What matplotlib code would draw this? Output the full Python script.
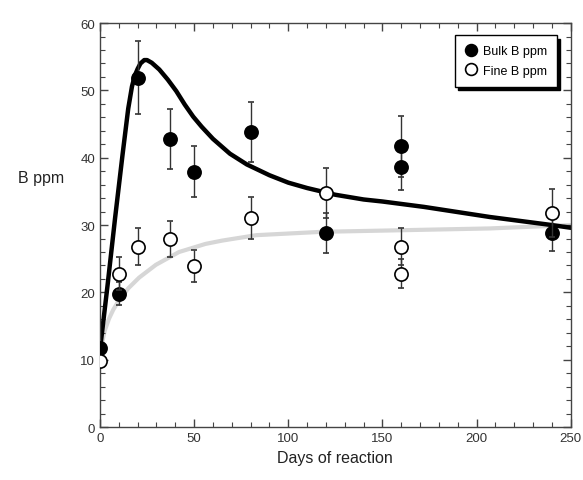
import numpy as np
import matplotlib.pyplot as plt
from matplotlib.ticker import MultipleLocator
from matplotlib.lines import Line2D

plt.rcParams['font.family'] = ['Liberation Sans', 'DejaVu Sans']

# --------- data ---------

# bulk (filled circles)
bulk_days = [0, 10, 20, 37, 50, 80, 120, 160, 160, 240]
bulk_ppm = [11.8, 19.8, 51.9, 42.8, 37.9, 43.8, 28.8, 41.7, 38.6, 28.8]
bulk_err = [0.0, 1.7, 5.4, 4.4, 3.8, 4.5, 3.0, 4.5, 3.4, 2.7]

# fine (open circles)
fine_days = [0, 10, 20, 37, 50, 80, 120, 160, 160, 240]
fine_ppm = [9.8, 22.8, 26.8, 27.9, 23.9, 31.0, 34.8, 26.8, 22.8, 31.8]
fine_err = [0.0, 2.5, 2.8, 2.7, 2.4, 3.1, 3.7, 2.8, 2.1, 3.5]

# model curves
bulk_fit_x = [0, 4, 8, 12, 15, 17, 18.5, 20, 21.5, 23.5, 25, 27.5, 31.5, 36,
              40.5, 45, 49.5, 54, 60, 69, 78, 90, 100, 110, 125, 140, 150,
              172, 207, 240, 250]
bulk_fit_y = [11.5, 21, 31, 40.5, 47.3, 50.6, 52.2, 53.2, 54.0, 54.5, 54.5,
              54.1, 53.1, 51.6, 49.9, 47.9, 46.1, 44.6, 42.8, 40.6, 39.0, 37.4,
              36.3, 35.5, 34.5, 33.8, 33.5, 32.7, 31.2, 30.0, 29.6]

fine_fit_x = [0, 1.2, 2.5, 4.8, 7, 10, 15, 20.8, 29.7, 42, 56, 65, 83, 118,
              154, 207, 250]
fine_fit_y = [11.0, 12.6, 14.3, 16.1, 17.4, 18.8, 20.6, 22.2, 24.1, 26.0, 27.2,
              27.7, 28.5, 29.0, 29.2, 29.5, 30.0]

# --------- figure ---------

fig = plt.figure(figsize=(5.83, 4.81), dpi=100)
ax = fig.add_axes([0.1715, 0.110, 0.8075, 0.840])

ax.plot(fine_fit_x, fine_fit_y, color='#d6d6d6', lw=3.0, zorder=1,
        solid_joinstyle='round')
ax.plot(bulk_fit_x, bulk_fit_y, color='black', lw=3.2, zorder=2,
        solid_joinstyle='round')

ax.errorbar(bulk_days, bulk_ppm, yerr=bulk_err, fmt='o', ms=9.5, mfc='black',
            mec='black', mew=1.2, ecolor='#333333', elinewidth=1.0, capsize=2.5,
            zorder=3)
ax.errorbar(fine_days, fine_ppm, yerr=fine_err, fmt='o', ms=9.5, mfc='white',
            mec='black', mew=1.2, ecolor='#333333', elinewidth=1.0, capsize=2.5,
            zorder=4)

ax.set_xlim(0, 250)
ax.set_ylim(0, 60)
ax.xaxis.set_major_locator(MultipleLocator(50))
ax.xaxis.set_minor_locator(MultipleLocator(10))
ax.yaxis.set_major_locator(MultipleLocator(10))
ax.yaxis.set_minor_locator(MultipleLocator(2))
ax.tick_params(which='both', direction='in', top=True, right=True,
               labelsize=9.5, labelcolor='#333333', color='#444444')
ax.tick_params(which='major', length=6, width=1)
ax.tick_params(which='minor', length=3.5, width=0.8)
for s in ax.spines.values():
    s.set_color('#444444')
    s.set_linewidth(1.0)

ax.set_xlabel('Days of reaction', fontsize=11.5, color='#222222', labelpad=4)
ax.set_ylabel('B ppm', fontsize=11.5, color='#222222', rotation=0,
              labelpad=0)
ax.yaxis.set_label_coords(-0.125, 0.60)

handles = [
    Line2D([], [], ls='none', marker='o', ms=8.5, mfc='black', mec='black', mew=1.2),
    Line2D([], [], ls='none', marker='o', ms=8.5, mfc='white', mec='black', mew=1.2),
]
leg = ax.legend(handles, ['Bulk B ppm', 'Fine B ppm'], loc='upper right',
                bbox_to_anchor=(0.970, 0.970), borderaxespad=0, fontsize=9,
                frameon=True, fancybox=False, edgecolor='black',
                shadow={'color': 'black', 'alpha': 1.0, 'ox': 2.5, 'oy': -2.5},
                handletextpad=0.4, borderpad=0.8, handlelength=1.0,
                labelspacing=0.6)
leg.get_frame().set_linewidth(1.0)

fig.savefig('out.png', dpi=100)
